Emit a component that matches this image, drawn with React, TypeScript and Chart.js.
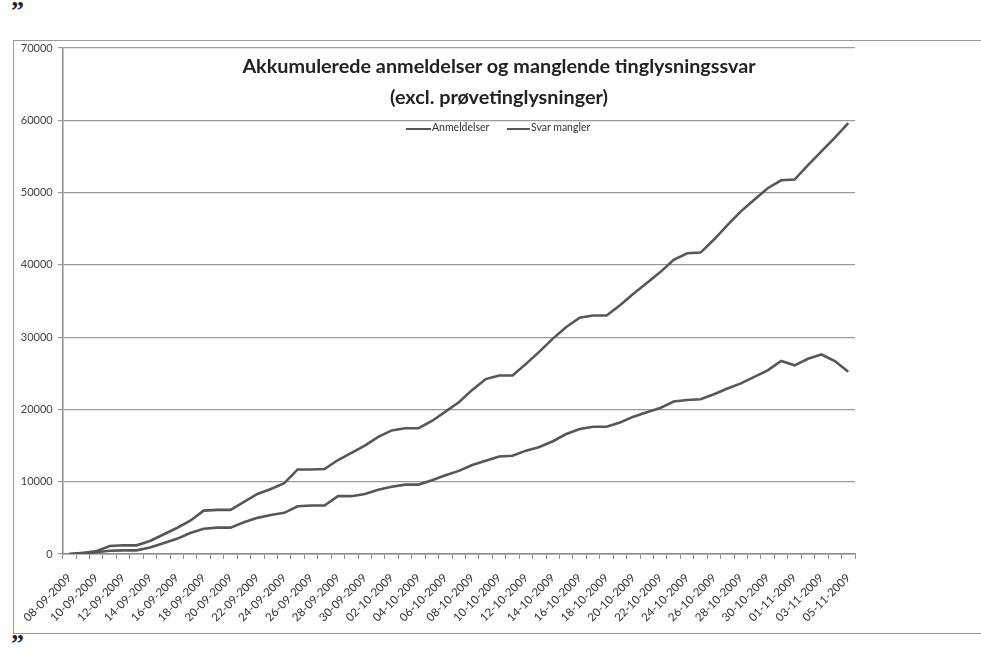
import React, { useEffect, useRef } from "react";
import { Chart, registerables } from "chart.js";

Chart.register(...registerables);

const dates: string[] = [
  "08-09-2009", "09-09-2009", "10-09-2009", "11-09-2009", "12-09-2009", "13-09-2009", "14-09-2009",
  "15-09-2009", "16-09-2009", "17-09-2009", "18-09-2009", "19-09-2009", "20-09-2009", "21-09-2009",
  "22-09-2009", "23-09-2009", "24-09-2009", "25-09-2009", "26-09-2009", "27-09-2009", "28-09-2009",
  "29-09-2009", "30-09-2009", "01-10-2009", "02-10-2009", "03-10-2009", "04-10-2009", "05-10-2009",
  "06-10-2009", "07-10-2009", "08-10-2009", "09-10-2009", "10-10-2009", "11-10-2009", "12-10-2009",
  "13-10-2009", "14-10-2009", "15-10-2009", "16-10-2009", "17-10-2009", "18-10-2009", "19-10-2009",
  "20-10-2009", "21-10-2009", "22-10-2009", "23-10-2009", "24-10-2009", "25-10-2009", "26-10-2009",
  "27-10-2009", "28-10-2009", "29-10-2009", "30-10-2009", "31-10-2009", "01-11-2009", "02-11-2009",
  "03-11-2009", "04-11-2009", "05-11-2009",
];

const anmeldelser: number[] = [
  0, 150, 400, 1100, 1200, 1200, 1800, 2700, 3600, 4600,
  6000, 6100, 6100, 7200, 8300, 9000, 9800, 11700, 11700, 11750,
  13000, 14000, 15000, 16200, 17100, 17400, 17400, 18400, 19700, 21000,
  22700, 24200, 24700, 24700, 26300, 28000, 29800, 31400, 32700, 33000,
  33000, 34400, 36000, 37500, 39000, 40700, 41600, 41700, 43500, 45500,
  47400, 49000, 50600, 51700, 51800, 53800, 55700, 57600, 59600,
];

const svarMangler: number[] = [
  0, 100, 250, 450, 500, 500, 900, 1500, 2100, 2900,
  3500, 3650, 3650, 4400, 5000, 5400, 5700, 6600, 6700, 6700,
  8000, 8000, 8300, 8900, 9300, 9600, 9600, 10200, 10900, 11500,
  12300, 12900, 13500, 13600, 14300, 14800, 15600, 16600, 17300, 17600,
  17600, 18200, 19000, 19600, 20200, 21100, 21300, 21400, 22100, 22900,
  23600, 24500, 25400, 26700, 26100, 27000, 27600, 26700, 25200,
];

const seriesNames: string[] = ["Anmeldelser", "Svar mangler"];
const titleLines: string[] = [
  "Akkumulerede anmeldelser og manglende tinglysningssvar",
  "(excl. prøvetinglysninger)",
];
const yMin = 0;
const yMax = 70000;
const yStep = 10000;

const LINE_COLOR = "#575757";
const FONT = "Lato, 'Noto Sans', sans-serif";

export default function App() {
  const ref = useRef<HTMLCanvasElement>(null);

  useEffect(() => {
    if (!ref.current) return;
    const chart = new Chart(ref.current, {
      type: "line",
      data: {
        labels: dates,
        datasets: [
          {
            label: seriesNames[0],
            data: anmeldelser,
            borderColor: LINE_COLOR,
            borderWidth: 2.6,
            pointRadius: 0,
            tension: 0,
            fill: false,
          },
          {
            label: seriesNames[1],
            data: svarMangler,
            borderColor: LINE_COLOR,
            borderWidth: 2.6,
            pointRadius: 0,
            tension: 0,
            fill: false,
          },
        ],
      },
      options: {
        animation: false,
        responsive: false,
        maintainAspectRatio: false,
        layout: { padding: { left: 14, top: 48, right: 126, bottom: 22 } },
        plugins: {
          legend: { display: false },
          title: { display: false },
          tooltip: { enabled: false },
        },
        scales: {
          x: {
            offset: true,
            grid: {
              display: true,
              offset: true,
              drawOnChartArea: false,
              drawTicks: true,
              tickLength: 5,
              color: "#8a8a8a",
            },
            border: { display: true, color: "#8a8a8a", width: 1.5 },
            ticks: {
              autoSkip: false,
              minRotation: 45,
              maxRotation: 45,
              padding: 12,
              color: "#333",
              font: { family: FONT, size: 11.5 },
              callback: (_v: any, i: number) => (i % 2 === 0 ? dates[i] : ""),
            },
            afterFit: (s: any) => {
              s.height = 79;
            },
          },
          y: {
            min: yMin,
            max: yMax,
            grid: {
              color: "#9a9a9a",
              lineWidth: 1.2,
              tickLength: 5,
            },
            border: { display: true, color: "#8a8a8a", width: 1.5 },
            ticks: {
              stepSize: yStep,
              padding: 5,
              color: "#444",
              font: { family: FONT, size: 11 },
              callback: (v: any) => String(v),
            },
            afterFit: (s: any) => {
              s.width = 48.7;
            },
          },
        },
      },
    });
    return () => chart.destroy();
  }, []);

  return (
    <div
      style={{
        position: "fixed",
        left: 0,
        top: 0,
        width: 981,
        height: 655,
        background: "#fff",
        overflow: "hidden",
        fontFamily: FONT,
      }}
    >
      <div
        style={{
          position: "absolute",
          left: 11,
          top: -4,
          fontFamily: "'Liberation Serif', serif",
          fontWeight: 700,
          fontSize: 26,
          color: "#222",
        }}
      >
        ”
      </div>
      <div
        style={{
          position: "absolute",
          left: 11,
          top: 629,
          fontFamily: "'Liberation Serif', serif",
          fontWeight: 700,
          fontSize: 26,
          color: "#222",
        }}
      >
        ”
      </div>
      <div
        style={{
          position: "absolute",
          left: 13,
          top: 40,
          width: 990,
          height: 592,
          borderLeft: "1.5px solid #999",
          borderTop: "1.5px solid #999",
          borderBottom: "1.5px solid #999",
        }}
      />
      <canvas
        ref={ref}
        width={981}
        height={655}
        style={{ position: "absolute", left: 0, top: 0, width: 981, height: 655 }}
      />
      <div
        style={{
          position: "absolute",
          left: 0,
          width: 998,
          top: 50,
          textAlign: "center",
          fontSize: 19.8,
          fontWeight: 700,
          lineHeight: "31px",
          color: "#222",
        }}
      >
        <div>{titleLines[0]}</div>
        <div>{titleLines[1]}</div>
      </div>
      <div style={{ position: "absolute", left: 406, top: 128, width: 25, height: 2, background: LINE_COLOR }} />
      <div style={{ position: "absolute", left: 432, top: 121, fontSize: 10.5, color: "#333", whiteSpace: "nowrap" }}>
        {seriesNames[0]}
      </div>
      <div style={{ position: "absolute", left: 507, top: 128, width: 23, height: 2, background: LINE_COLOR }} />
      <div style={{ position: "absolute", left: 531, top: 121, fontSize: 10.5, color: "#333", whiteSpace: "nowrap" }}>
        {seriesNames[1]}
      </div>
    </div>
  );
}
